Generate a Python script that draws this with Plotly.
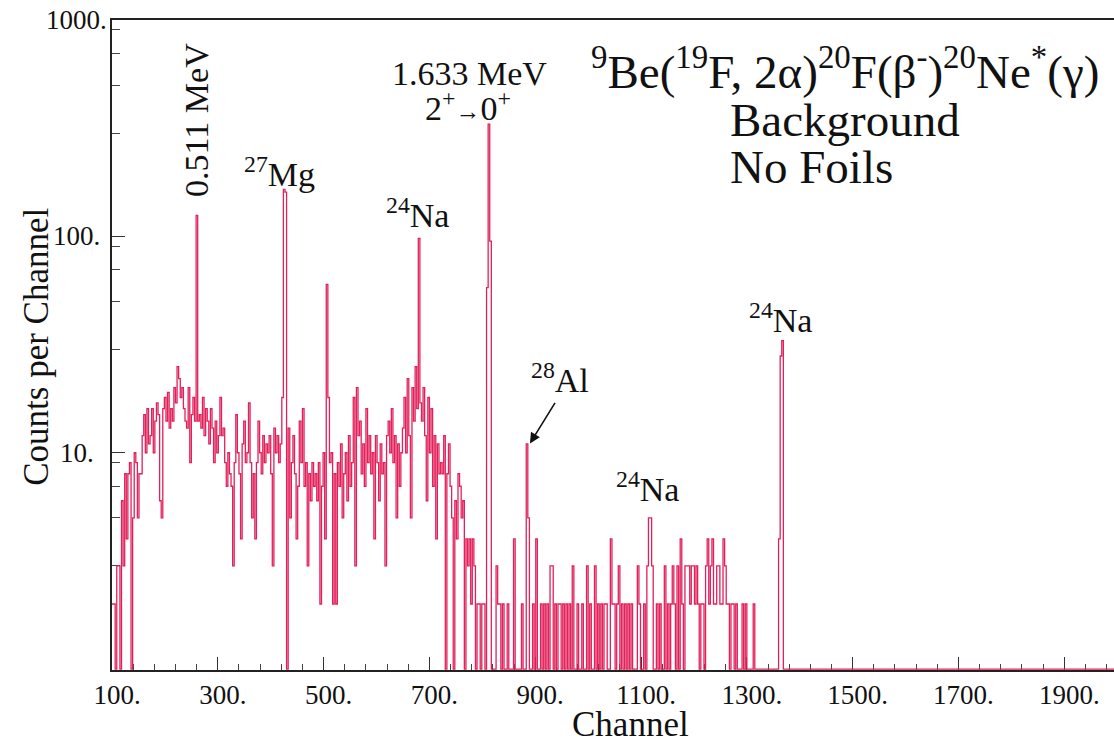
import math
import plotly.graph_objects as go

# ---------------- data (counts per 3-channel bin) ----------------
bin_width = 3

# block A: channels 100 .. 258
blockA_start = 100
blockA_counts = [2, 2, 1, 3, 3, 1, 6, 3, 8, 4, 8, 9, 1, 5,
                 10, 9, 5, 8, 8, 12, 15, 10, 16, 11,
                 12, 16, 10, 14, 17, 15, 6, 5, 16, 18, 14,
                 19, 13, 16, 14, 20, 17, 25, 22, 18, 20,
                 16, 14, 13, 20, 9, 15, 18, 14]

# block B: channels 259 .. 432 (0.511 MeV peak, 27Mg peak)
blockB_start = 259
blockB_counts = [125, 14,
                 15, 13, 18, 12, 16, 14, 11, 16, 13, 9, 14,
                 10, 12, 18, 12, 13, 9, 7, 10, 8, 7,
                 3, 9, 15, 10, 8, 4, 11, 14, 9, 10, 17, 9, 5, 8, 4, 9, 14, 10, 8, 12,
                 9, 11, 10, 12, 8, 3, 13, 10, 12, 9, 11,
                 18, 165, 160, 1]

# block C: channels 433 .. 741 (24Na peak)
blockC_start = 433
blockC_counts = [13, 5, 9, 12, 8, 4, 7, 14, 9, 16,
                 7, 9, 3, 8, 6, 9, 7, 8, 6, 9,
                 2, 7, 10, 4, 60, 18, 9, 10, 2, 8, 2, 9,
                 7, 11, 5, 8, 10, 6, 12, 7,
                 9, 18, 3, 20, 12, 14, 8, 11, 7, 16, 9, 12,
                 8, 10, 4, 12, 9, 6, 11, 8, 9, 3,
                 12, 14, 10, 16, 9, 12, 5, 11, 7, 10,
                 13, 18, 10, 22, 12, 5, 20, 14, 25, 16,
                 98, 17,
                 14, 20, 12, 6, 18, 10, 16, 7, 12, 4, 11,
                 8, 9, 8, 12, 1, 8, 11, 7]

# block D: channels 742 .. 849 (1.633 MeV peak)
blockD_start = 742
blockD_counts = [5, 1, 6, 4, 8, 7, 5, 6, 1, 4,
                 3, 4, 2, 4, 3, 1, 2, 2, 1, 2, 2, 1,
                 58, 330, 95,
                 1, 1, 1, 3, 2, 2, 1, 2, 1, 1, 2]

# block E: channels 850 .. 1368 (28Al, 24Na peaks)
blockE_start = 850
blockE_counts = [1, 1, 1, 4, 1, 1, 1, 1, 2, 1, 1, 11, 5, 1, 1, 2, 1, 4, 1, 1,
                 2, 1, 2, 1, 2, 1, 3, 3, 1, 2, 1, 2, 2, 1, 2, 1, 2, 1, 2, 1,
                 3, 1, 1, 2, 1, 1, 2, 1, 1, 3, 1, 2, 1, 1, 3, 1, 2, 1, 2, 1,
                 2, 2, 1, 1, 4, 2, 2, 1, 2, 3, 1, 2, 1, 2, 1, 2, 1, 2, 1, 1,
                 1, 3, 2, 1, 1, 2, 1, 3, 5, 5, 3, 1, 1, 2, 1, 2, 1, 1, 3, 1,
                 2, 1, 2, 3, 2, 1, 3, 1, 4, 2, 1, 3, 3, 3, 2, 3, 3, 2, 3, 2,
                 1, 2, 2, 1, 3, 4, 2, 3, 4, 2, 2, 3, 3, 2, 2, 4, 3, 2, 2, 1,
                 2, 2, 1, 2, 1, 1, 1, 2, 1, 2, 1, 1, 1, 1, 2, 1, 1, 1, 1, 1,
                 1, 1, 1, 1, 1, 1, 1, 1, 1, 1,
                 4, 28, 33]

# flat tail up to the end of the axis
tail_channels = [1369, 1994]
tail_counts = [1, 1]

blocks = [(blockA_start, blockA_counts), (blockB_start, blockB_counts),
          (blockC_start, blockC_counts), (blockD_start, blockD_counts),
          (blockE_start, blockE_counts)]

xs, ys = [], []
for start, vals in blocks:
    for k, v in enumerate(vals):
        xs.append(start + k * bin_width)
        ys.append(v)
xs += tail_channels
ys += tail_counts

# axis ticks
x_tick_vals = [100, 300, 500, 700, 900, 1100, 1300, 1500, 1700, 1900]
x_tick_text = ["100.", "300.", "500.", "700.", "900.", "1100.", "1300.", "1500.", "1700.", "1900."]
y_tick_vals = [10, 100, 1000]
y_tick_text = ["10.", "100.", "1000."]
y_minor_vals = [3, 5, 7, 9, 30, 50, 70, 90, 300, 500, 700, 900]

FONT = "Liberation Serif, Times New Roman, serif"
LINE_COLOR = "#E2205A"

fig = go.Figure()
fig.add_trace(go.Scatter(x=xs, y=ys, mode="lines", line=dict(color=LINE_COLOR, width=1.3, shape="hv"),
                         hoverinfo="skip", showlegend=False))

fig.update_layout(
    width=1114, height=746,
    margin=dict(l=112, r=0, t=20, b=76),
    paper_bgcolor="white", plot_bgcolor="white",
    font=dict(family=FONT, color="#111"),
    showlegend=False,
)

fig.update_xaxes(
    range=[100, 1994], showgrid=False, zeroline=False,
    showline=True, linecolor="#222", linewidth=1.5, mirror=True,
    tickmode="array", tickvals=x_tick_vals, ticktext=x_tick_text,
    ticks="inside", ticklen=13, tickwidth=1.2, tickcolor="#333",
    tickfont=dict(family=FONT, size=27, color="#111"),
    ticklabelstandoff=0, ticklabelshift=5,
    minor=dict(ticks="inside", ticklen=6, tickwidth=1, tickcolor="#444", dtick=40, tick0=100, showgrid=False),
    layer="below traces",
)
fig.update_yaxes(
    type="log", range=[-0.004, 3], showgrid=False, zeroline=False,
    showline=True, linecolor="#222", linewidth=1.5, mirror=False,
    tickmode="array", tickvals=y_tick_vals, ticktext=y_tick_text,
    ticks="inside", ticklen=13, tickwidth=1.2, tickcolor="#333",
    showticklabels=False,
    minor=dict(ticks="inside", ticklen=8, tickwidth=1, tickcolor="#444", tickmode="array",
               tickvals=y_minor_vals, showgrid=False),
    layer="below traces",
)

ann = []
# y tick labels (centered, as in the reference)
for v, t in zip(y_tick_vals, y_tick_text):
    ann.append(dict(x=-0.035, xref="paper", y=math.log10(v), yref="y", text=t, showarrow=False,
                    xanchor="center", yanchor="middle", font=dict(family=FONT, size=27, color="#111")))

# axis titles
ann.append(dict(x=0.517, xref="paper", y=-0.084, yref="paper", text="Channel", showarrow=False,
                xanchor="center", yanchor="middle", font=dict(family=FONT, size=35, color="#111")))
ann.append(dict(x=-0.075, xref="paper", y=0.497, yref="paper", text="Counts per Channel", showarrow=False,
                textangle=-90, xanchor="center", yanchor="middle", font=dict(family=FONT, size=35, color="#111")))

lab = dict(family=FONT, size=34, color="#111")
peak_labels = [
    (260.6, 2.538, "0.511 MeV", -90),
    (417, 2.298, "<sup>27</sup>Mg", 0),
    (678, 2.109, "<sup>24</sup>Na", 0),
    (776, 2.752, "1.633 MeV", 0),
    (773, 2.602, "2<sup>+</sup><span style='font-size:25px'>→</span>0<sup>+</sup>", 0),
    (1364, 1.624, "<sup>24</sup>Na", 0),
    (947, 1.347, "<sup>28</sup>Al", 0),
    (1113, 0.840, "<sup>24</sup>Na", 0),
]
for xv, yv, t, ang in peak_labels:
    ann.append(dict(x=xv, y=yv, xref="x", yref="y", text=t, showarrow=False, textangle=ang,
                    xanchor="center", yanchor="middle", font=lab))

# arrow to the 28Al peak
ann.append(dict(x=890, y=1.043, xref="x", yref="y", text="", showarrow=True, ax=26, ay=-42,
                arrowhead=2, arrowsize=1.3, arrowwidth=1.6, arrowcolor="#111"))

big = dict(family=FONT, size=47, color="#111")
ann.append(dict(x=0.7315, y=0.926, xref="paper", yref="paper", showarrow=False, xanchor="center", yanchor="middle",
                text="<sup>9</sup>Be(<sup>19</sup>F, 2α)<sup>20</sup>F(β<sup>-</sup>)<sup>20</sup>Ne<sup>*</sup>(γ)",
                font=big))
ann.append(dict(x=0.6148, y=0.846, xref="paper", yref="paper", showarrow=False, xanchor="left", yanchor="middle",
                text="Background", font=big))
ann.append(dict(x=0.6148, y=0.774, xref="paper", yref="paper", showarrow=False, xanchor="left", yanchor="middle",
                text="No Foils", font=big))

fig.update_layout(annotations=ann)
fig.write_html("out.html")
